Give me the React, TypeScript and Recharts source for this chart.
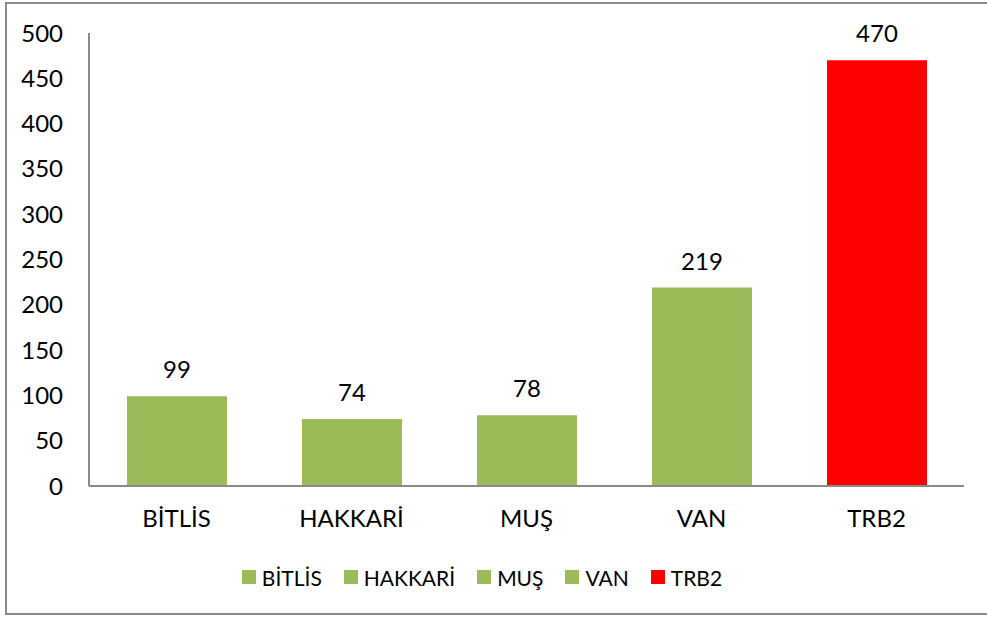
import { BarChart, Bar, XAxis, YAxis, Legend, Cell, LabelList } from "recharts";

const categories = ["BİTLİS", "HAKKARİ", "MUŞ", "VAN", "TRB2"];
const values = [99, 74, 78, 219, 470];
const colors = ["#9BBB59", "#9BBB59", "#9BBB59", "#9BBB59", "#FF0000"];
const yTicks = [0, 50, 100, 150, 200, 250, 300, 350, 400, 450, 500];

const data = categories.map((name, i) => ({ name, value: values[i] }));

const FONT = "Lato, 'Open Sans', sans-serif";

function LegendBox() {
  return (
    <div style={{ display: "flex", justifyContent: "center", alignItems: "center", fontFamily: FONT, fontSize: 21, color: "#000", height: 30 }}>
      {categories.map((c, i) => (
        <div key={c} style={{ display: "flex", alignItems: "center", margin: "0 11px" }}>
          <span style={{ width: 14, height: 14, background: colors[i], marginRight: 6, display: "inline-block" }} />
          <span>{c}</span>
        </div>
      ))}
    </div>
  );
}

export default function App() {
  return (
    <div style={{ position: "absolute", left: 0, top: 0, width: 987, height: 617, overflow: "hidden", background: "#fff" }}>
      <div style={{ position: "absolute", left: 5, top: 2, width: 1000, height: 613, border: "2px solid #8a8a8a", boxSizing: "border-box" }} />
      <div style={{ position: "absolute", left: 0, top: 0 }}>
        <BarChart width={987} height={617} data={data} margin={{ top: 33, right: 23, left: 0, bottom: 25 }} barSize={100}>
          <XAxis
            dataKey="name"
            height={76}
            tickLine={false}
            tickSize={0}
            tickMargin={24}
            axisLine={{ stroke: "#8a8a8a", strokeWidth: 2 }}
            tick={{ fill: "#000", fontSize: 24, fontFamily: FONT }}
          />
          <YAxis
            width={89}
            domain={[0, 500]}
            ticks={yTicks}
            interval={0}
            tickLine={false}
            tickSize={0}
            tickMargin={26}
            axisLine={{ stroke: "#8a8a8a", strokeWidth: 2 }}
            tick={{ fill: "#000", fontSize: 24, fontFamily: FONT }}
          />
          <Legend verticalAlign="bottom" height={30} content={() => <LegendBox />} />
          <Bar dataKey="value" isAnimationActive={false}>
            {data.map((d, i) => (
              <Cell key={d.name} fill={colors[i]} />
            ))}
            <LabelList dataKey="value" position="top" offset={18} style={{ fill: "#000", fontSize: 24, fontFamily: FONT }} />
          </Bar>
        </BarChart>
      </div>
    </div>
  );
}
